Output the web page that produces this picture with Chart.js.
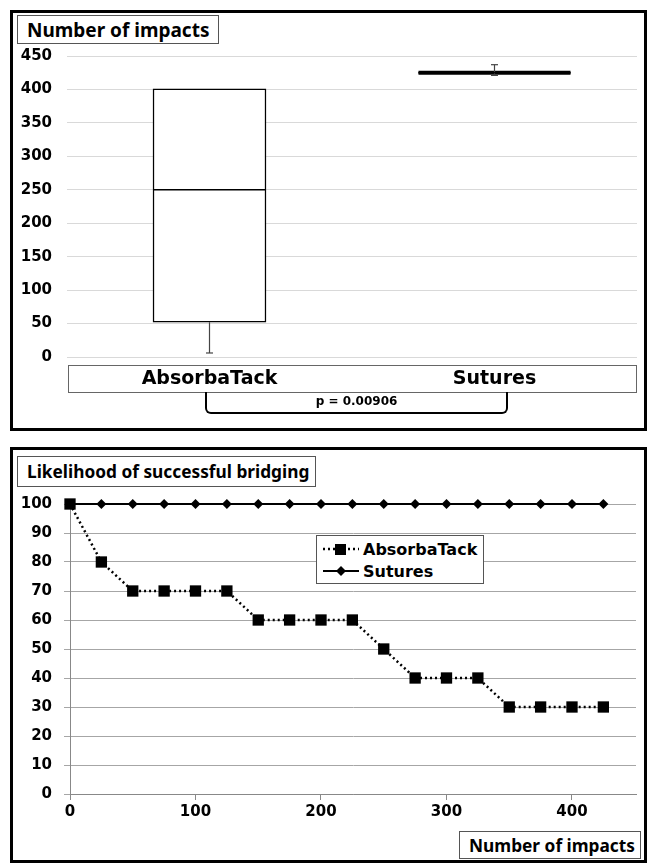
<!DOCTYPE html>
<html><head><meta charset="utf-8">
<script src="https://cdn.jsdelivr.net/npm/chart.js@4.4.1/dist/chart.umd.min.js"></script>
<style>
html,body{margin:0;padding:0;background:#fff;width:650px;height:865px;overflow:hidden;}
body{position:relative;}
.panel{position:absolute;box-sizing:border-box;border:3px solid #000;background:#fff;}
.inner{position:relative;}
.tbox{position:absolute;box-sizing:border-box;border:1.5px solid #555;background:#fff;font-family:"Noto Sans",sans-serif;font-weight:700;font-size:17.3px;color:#000;display:flex;align-items:center;padding-left:9px;white-space:nowrap;}
.catbox{position:absolute;box-sizing:border-box;border:1.5px solid #666;}
.bracket{position:absolute;box-sizing:border-box;border:2px solid #000;border-top:none;border-radius:0 0 6px 6px;font-family:"DejaVu Sans",sans-serif;font-weight:700;font-size:12px;text-align:center;line-height:18px;}
.legend{position:absolute;box-sizing:border-box;border:1.5px solid #555;background:#fff;font-family:"DejaVu Sans",sans-serif;font-weight:700;font-size:16px;padding:2px 0 0 4px;}
.legend div{display:flex;align-items:center;height:22px;}
.legend svg{margin-right:2px;}
</style>
</head><body>

<div class="panel" style="left:10px;top:10px;width:637px;height:421px;">
  <div class="inner" style="width:631px;height:415px;"><canvas id="c1"></canvas></div>
</div>
<div class="tbox" style="left:17px;top:15px;width:202px;height:29px;font-size:19px;">Number of impacts</div>
<div class="catbox" style="left:68px;top:365px;width:569px;height:28px;"></div>
<div class="bracket" style="left:205px;top:392px;width:303px;height:22px;">p = 0.00906</div>

<div class="panel" style="left:10px;top:447px;width:637px;height:416px;">
  <div class="inner" style="width:631px;height:410px;"><canvas id="c2"></canvas></div>
</div>
<div class="tbox" style="left:17px;top:456px;width:299px;height:31px;">Likelihood of successful bridging</div>
<div class="tbox" style="left:459px;top:831px;width:182px;height:28px;">Number of impacts</div>
<div class="legend" style="left:316px;top:535px;width:168px;height:49px;">
  <div><svg width="40" height="14"><line x1="2" y1="7" x2="38" y2="7" stroke="#000" stroke-width="2.5" stroke-dasharray="2,3"/><rect x="14" y="2" width="11" height="11" fill="#000"/></svg>AbsorbaTack</div>
  <div><svg width="40" height="14"><line x1="2" y1="7" x2="38" y2="7" stroke="#000" stroke-width="2"/><polygon points="20,2 25,7 20,12 15,7" fill="#000"/></svg>Sutures</div>
</div>

<script>
// ---------- Top chart data (box plot) ----------
const categories = ['AbsorbaTack', 'Sutures'];
const boxMin    = [6, 421];
const boxQ1     = [52, 424];
const boxMedian = [250, 425];
const boxQ3     = [401, 426];
const boxMax    = [401, 437];
const topYTicks = [0, 50, 100, 150, 200, 250, 300, 350, 400, 450];

// ---------- Bottom chart data ----------
const impacts     = [0, 25, 50, 75, 100, 125, 150, 175, 200, 225, 250, 275, 300, 325, 350, 375, 400, 425];
const absorbaTack = [100, 80, 70, 70, 70, 70, 60, 60, 60, 60, 50, 40, 40, 40, 30, 30, 30, 30];
const sutures     = [100, 100, 100, 100, 100, 100, 100, 100, 100, 100, 100, 100, 100, 100, 100, 100, 100, 100];
const bottomXTicks = [0, 100, 200, 300, 400];
const bottomYTicks = [0, 10, 20, 30, 40, 50, 60, 70, 80, 90, 100];

const tickFont = {family: 'DejaVu Sans', weight: 'bold', size: 15};
const boxWidths = [113, 152];
const boxFills = ['#fff', '#000'];
const medianWidths = [1.5, 4];

const whiskerPlugin = {
  id: 'whiskers',
  afterDatasetsDraw(chart) {
    const {ctx, scales: {x, y}} = chart;
    ctx.save();
    categories.forEach((c, i) => {
      const cx = x.getPixelForValue(i);
      const half = boxWidths[i] / 2;
      // median
      ctx.strokeStyle = '#000';
      ctx.lineWidth = medianWidths[i];
      ctx.beginPath();
      ctx.moveTo(cx - half, y.getPixelForValue(boxMedian[i]));
      ctx.lineTo(cx + half, y.getPixelForValue(boxMedian[i]));
      ctx.stroke();
      // whiskers
      ctx.strokeStyle = '#444';
      ctx.lineWidth = 1.2;
      const seg = (from, to) => {
        const p1 = y.getPixelForValue(from), p2 = y.getPixelForValue(to);
        if (Math.abs(p1 - p2) < 0.5) return;
        ctx.beginPath(); ctx.moveTo(cx, p1); ctx.lineTo(cx, p2); ctx.stroke();
        ctx.beginPath(); ctx.moveTo(cx - 3.5, p2); ctx.lineTo(cx + 3.5, p2); ctx.stroke();
      };
      seg(boxQ1[i], boxMin[i]);
      seg(boxQ3[i], boxMax[i]);
    });
    ctx.restore();
  }
};

new Chart(document.getElementById('c1'), {
  type: 'bar',
  data: {
    labels: categories,
    datasets: categories.map((c, k) => ({
      data: categories.map((cc, i) => i === k ? [boxQ1[i], boxQ3[i]] : null),
      barThickness: boxWidths[k],
      backgroundColor: boxFills[k],
      borderColor: '#000',
      borderWidth: 1.5,
      borderSkipped: false,
      grouped: false
    }))
  },
  options: {
    responsive: true, maintainAspectRatio: false, animation: false,
    layout: {padding: {left: 0, top: 43, right: 7, bottom: 0}},
    plugins: {legend: {display: false}, tooltip: {enabled: false}},
    scales: {
      x: {
        grid: {display: false, drawTicks: false},
        border: {display: false},
        ticks: {color: '#000', font: {family: 'DejaVu Sans', weight: 'bold', size: 19}, padding: 11},
        afterFit(s) { s.height = 71; }
      },
      y: {
        min: 0, max: 450,
        afterBuildTicks(s) { s.ticks = topYTicks.map(v => ({value: v})); },
        grid: {color: '#d9d9d9', lineWidth: 1, drawTicks: false},
        border: {display: false},
        ticks: {color: '#000', font: tickFont, padding: 15},
        afterFit(s) { s.width = 54; }
      }
    }
  },
  plugins: [whiskerPlugin]
});

new Chart(document.getElementById('c2'), {
  type: 'line',
  data: {
    datasets: [
      {
        label: 'AbsorbaTack',
        data: impacts.map((v, i) => ({x: v, y: absorbaTack[i]})),
        borderColor: '#000', borderWidth: 2.5, borderDash: [2, 3],
        pointStyle: 'rect', pointRadius: 8, pointBackgroundColor: '#000', pointBorderWidth: 0,
        clip: false
      },
      {
        label: 'Sutures',
        data: impacts.map((v, i) => ({x: v, y: sutures[i]})),
        borderColor: '#000', borderWidth: 2,
        pointStyle: 'rectRot', pointRadius: 5, pointBackgroundColor: '#000', pointBorderWidth: 0,
        clip: false
      }
    ]
  },
  options: {
    responsive: true, maintainAspectRatio: false, animation: false,
    layout: {padding: {left: 0, top: 54, right: 7, bottom: 0}},
    plugins: {legend: {display: false}, tooltip: {enabled: false}},
    scales: {
      x: {
        type: 'linear', min: 0, max: 451,
        afterBuildTicks(s) { s.ticks = bottomXTicks.map(v => ({value: v})); },
        grid: {drawOnChartArea: false, drawTicks: true, tickLength: 6, color: '#888'},
        border: {display: true, color: '#888', width: 1},
        ticks: {color: '#000', font: tickFont, padding: 3},
        afterFit(s) { s.height = 66; }
      },
      y: {
        min: 0, max: 100,
        afterBuildTicks(s) { s.ticks = bottomYTicks.map(v => ({value: v})); },
        grid: {color: '#a6a6a6', lineWidth: 1, drawTicks: true, tickLength: 6},
        border: {display: true, color: '#888', width: 1},
        ticks: {color: '#000', font: tickFont, padding: 12},
        afterFit(s) { s.width = 57; }
      }
    }
  }
});
</script>
</body></html>
